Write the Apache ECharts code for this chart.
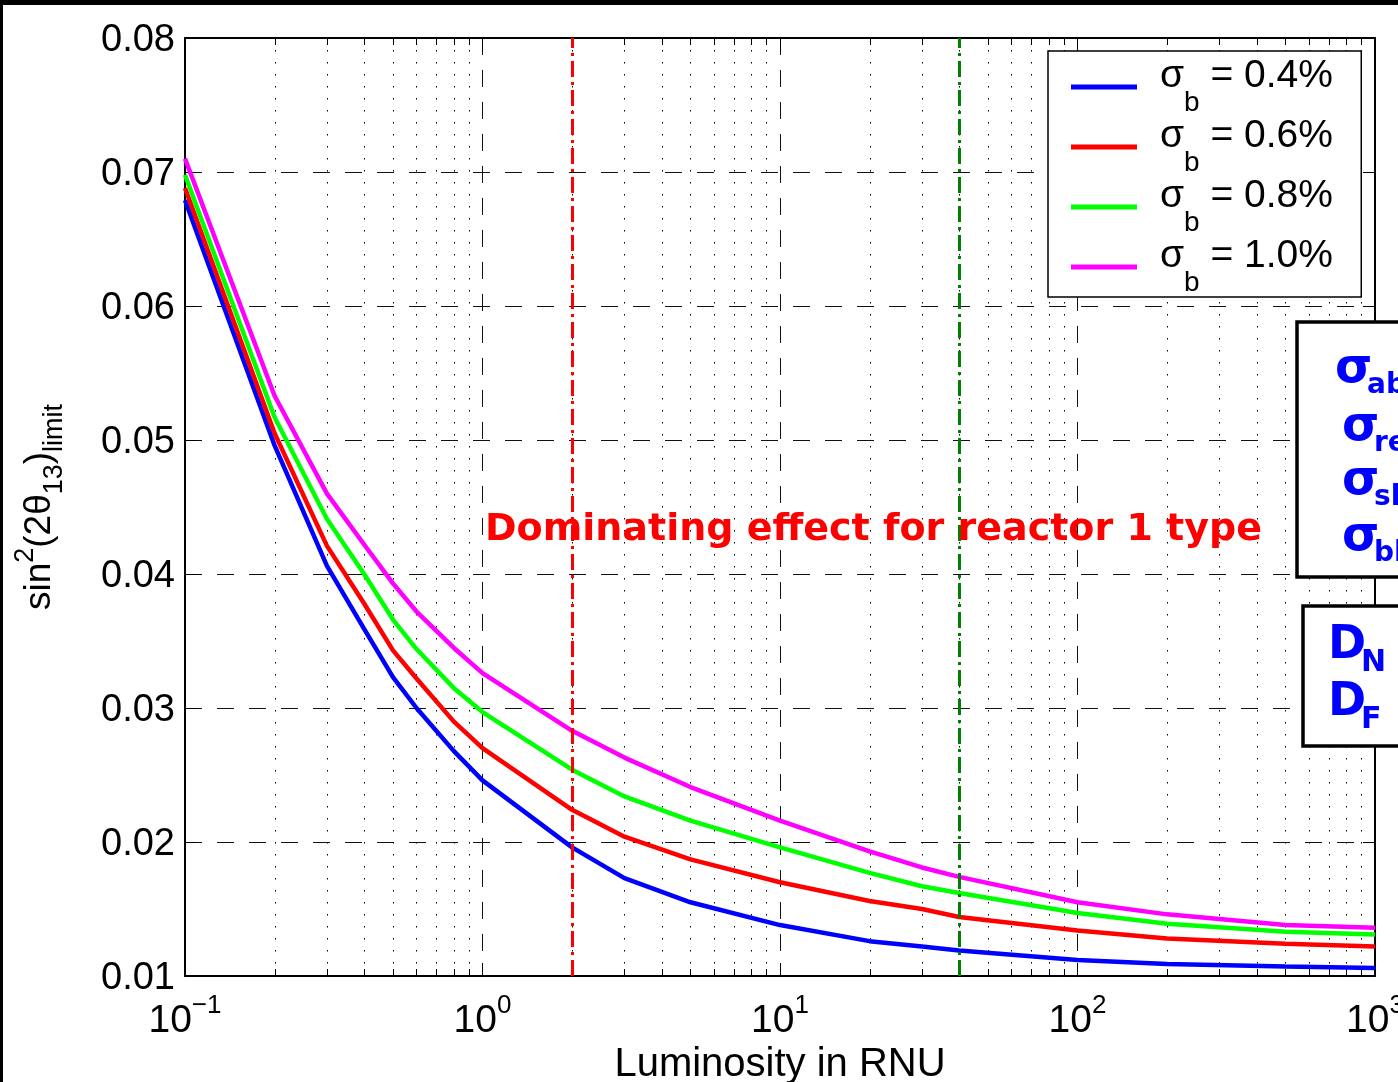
<!DOCTYPE html>
<html>
<head>
<meta charset="utf-8">
<script src="https://cdn.jsdelivr.net/npm/echarts@6/dist/echarts.min.js"></script>
<style>
html,body{margin:0;padding:0;background:#fff;overflow:hidden;}
#chart{width:1398px;height:1082px;}
</style>
</head>
<body>
<div id="chart"></div>
<script>
// ---- data ----
const luminosity = [0.1, 0.2, 0.3, 0.4, 0.5, 0.6, 0.8, 1, 2, 3, 5, 10, 20, 30, 40, 100, 200, 500, 1000];
const sigma04 = [0.0679,0.0496,0.0406,0.0359,0.0323,0.0300,0.0268,0.0246,0.0196,0.0173,0.0155,0.0138,0.0126,0.0122,0.0119,0.0112,0.0109,0.0107,0.0106];
const sigma06 = [0.0688,0.0505,0.0421,0.0378,0.0343,0.0322,0.0290,0.0270,0.0224,0.0204,0.0187,0.0170,0.0156,0.0150,0.0144,0.0134,0.0128,0.0124,0.0122];
const sigma08 = [0.0698,0.0517,0.0441,0.0400,0.0366,0.0344,0.0315,0.0297,0.0254,0.0234,0.0216,0.0196,0.0177,0.0167,0.0162,0.0147,0.0139,0.0133,0.0131];
const sigma10 = [0.0710,0.0533,0.0460,0.0422,0.0393,0.0372,0.0345,0.0326,0.0283,0.0263,0.0241,0.0216,0.0193,0.0181,0.0174,0.0155,0.0146,0.0138,0.0136];
const seriesNames = ['σb = 0.4%', 'σb = 0.6%', 'σb = 0.8%', 'σb = 1.0%'];
const seriesColors = ['#0000ff', '#ff0000', '#00ff00', '#ff00ff'];
const referenceLines = [2, 40];       // red (reactor 1 type), green
const referenceColors = ['#ff0000', '#008000'];
const yTicks = { min: 0.01, max: 0.08, interval: 0.01 };
const xRange = { min: 0.1, max: 1000 };
const minorX = [];
[0.1, 1, 10, 100].forEach(d => { for (let k = 2; k <= 9; k++) minorX.push(+(d * k).toPrecision(3)); });
const annotation = 'Dominating effect for reactor 1 type';
const boxSigma = [['abs', 1335, 370], ['rel', 1342, 428], ['shape', 1342, 482], ['bkg', 1342, 538]];
const boxD = [['N', 1328, 646], ['F', 1328, 703]];

const allSeries = [sigma04, sigma06, sigma08, sigma10];
const FONT = '"Liberation Sans", Arial, Helvetica, sans-serif';
const CFONT = '"DejaVu Sans", "Noto Sans", sans-serif';

const chart = echarts.init(document.getElementById('chart'), null, { renderer: 'canvas' });

const lineSeries = allSeries.map((vals, i) => ({
  type: 'line',
  name: seriesNames[i],
  data: luminosity.map((x, j) => [x, vals[j]]),
  showSymbol: false,
  symbol: 'none',
  smooth: false,
  z: 3,
  lineStyle: { color: seriesColors[i], width: 4.5 },
  itemStyle: { color: seriesColors[i] },
  emphasis: { disabled: true },
  markLine: i === 0 ? {
    silent: true,
    symbol: 'none',
    label: { show: false },
    animation: false,
    data: referenceLines.map((v, k) => ({
      xAxis: v,
      lineStyle: { color: referenceColors[k], width: 3, type: [16, 5, 3, 5] }
    }))
  } : undefined
}));

const minorSeries = {
  type: 'custom',
  name: 'minor',
  silent: true,
  clip: false,
  z: 1,
  data: minorX.map(v => [v, yTicks.min]),
  renderItem: function (params, api) {
    const cs = params.coordSys;
    const x = Math.round(api.coord([api.value(0), api.value(1)])[0]) + 0.5;
    const top = cs.y, bot = cs.y + cs.height;
    return {
      type: 'group',
      children: [
        { type: 'line', shape: { x1: x, y1: top, x2: x, y2: bot }, style: { stroke: '#000', lineWidth: 1, lineDash: [1.5, 10.5] } },
        { type: 'line', shape: { x1: x, y1: bot, x2: x, y2: bot - 7 }, style: { stroke: '#000', lineWidth: 1 } },
        { type: 'line', shape: { x1: x, y1: top, x2: x, y2: top + 7 }, style: { stroke: '#000', lineWidth: 1 } }
      ]
    };
  }
};

const graphics = [
  { type: 'rect', shape: { x: 0, y: 0, width: 1398, height: 5 }, style: { fill: '#000' }, z: 200 },
  { type: 'rect', shape: { x: 0, y: 0, width: 3, height: 1082 }, style: { fill: '#000' }, z: 200 },
  { type: 'text', x: 485, y: 530, z: 50, style: { text: annotation, font: 'bold 38px ' + CFONT, fill: '#ff0000', verticalAlign: 'middle' } },
  { type: 'rect', shape: { x: 1297, y: 322, width: 150, height: 255 }, style: { fill: '#fff', stroke: '#000', lineWidth: 3.5 }, z: 60 },
  { type: 'rect', shape: { x: 1303, y: 606, width: 150, height: 140 }, style: { fill: '#fff', stroke: '#000', lineWidth: 3.5 }, z: 60 }
];
boxSigma.forEach(([sub, x, y]) => {
  graphics.push({ type: 'text', x: x, y: y, z: 61, style: { text: 'σ', font: 'bold 48px ' + CFONT, fill: '#0000ff', verticalAlign: 'middle' } });
  graphics.push({ type: 'text', x: x + 32, y: y + 16, z: 61, style: { text: sub, font: 'bold 28px ' + CFONT, fill: '#0000ff', verticalAlign: 'middle' } });
});
boxD.forEach(([sub, x, y]) => {
  graphics.push({ type: 'text', x: x, y: y, z: 61, style: { text: 'D', font: 'bold 46px ' + CFONT, fill: '#0000ff', verticalAlign: 'middle' } });
  graphics.push({ type: 'text', x: x + 33, y: y + 17, z: 61, style: { text: sub, font: 'bold 30px ' + CFONT, fill: '#0000ff', verticalAlign: 'middle' } });
});

const option = {
  animation: false,
  backgroundColor: '#fff',
  textStyle: { fontFamily: FONT },
  grid: { left: 185, right: 23, top: 38, bottom: 106, containLabel: false, outerBoundsMode: 'none' },
  legend: {
    data: seriesNames,
    orient: 'vertical',
    left: 1048,
    top: 51,
    padding: [6, 28, 0, 23],
    itemGap: 0,
    itemWidth: 66,
    itemHeight: 5,
    icon: 'rect',
    selectedMode: false,
    backgroundColor: '#fff',
    borderColor: '#000',
    borderWidth: 1.5,
    borderRadius: 0,
    z: 10,
    formatter: function (name) {
      const rest = name.split(' ').slice(1).join(' ');
      return '{g| }{m|σ}{s|b}{m| ' + rest + '}{z| }';
    },
    textStyle: {
      color: '#000',
      fontFamily: FONT,
      rich: {
        g: { width: 18, fontSize: 10, lineHeight: 10 },
        m: { fontSize: 39, fontFamily: FONT, color: '#000', lineHeight: 44, verticalAlign: 'top' },
        s: { fontSize: 28, fontFamily: FONT, color: '#000', lineHeight: 42, verticalAlign: 'bottom' },
        z: { fontSize: 1, lineHeight: 60 }
      }
    }
  },
  xAxis: [
    {
      type: 'log', logBase: 10, min: xRange.min, max: xRange.max,
      position: 'bottom',
      name: 'Luminosity in RNU',
      nameLocation: 'middle',
      nameGap: 62,
      nameTextStyle: { fontSize: 40, color: '#000', fontFamily: FONT },
      axisLine: { show: true, onZero: false, lineStyle: { color: '#000', width: 2 } },
      axisTick: { show: true, inside: true, length: 13, lineStyle: { color: '#000', width: 1 } },
      axisLabel: {
        show: true, margin: 17, color: '#000',
        showMinLabel: true, showMaxLabel: true, hideOverlap: false,
        formatter: function (v) {
          const e = Math.round(Math.log10(v));
          return '{m|10}{s|' + (e < 0 ? '\u2212' + (-e) : e) + '}';
        },
        rich: {
          m: { fontSize: 39, fontFamily: FONT, color: '#000', lineHeight: 56, verticalAlign: 'middle' },
          s: { fontSize: 26, fontFamily: FONT, color: '#000', lineHeight: 26, verticalAlign: 'top' }
        }
      },
      splitLine: { show: true, lineStyle: { color: '#111', width: 1, type: [17, 15] } }
    },
    {
      type: 'log', logBase: 10, min: xRange.min, max: xRange.max,
      position: 'top',
      axisLine: { show: true, onZero: false, lineStyle: { color: '#000', width: 2 } },
      axisTick: { show: true, inside: true, length: 13, lineStyle: { color: '#000', width: 1 } },
      axisLabel: { show: false },
      splitLine: { show: false }
    }
  ],
  yAxis: [
    {
      type: 'value', min: yTicks.min, max: yTicks.max, interval: yTicks.interval,
      position: 'left',
      name: '{m|sin}{p|2}{m|(2θ}{b|13}{m|)}{b|limit}',
      nameLocation: 'middle',
      nameRotate: 90,
      nameGap: 117,
      nameTextStyle: {
        color: '#000',
        rich: {
          m: { fontSize: 37, fontFamily: FONT, color: '#000', lineHeight: 56, verticalAlign: 'middle' },
          p: { fontSize: 27, fontFamily: FONT, color: '#000', lineHeight: 27, verticalAlign: 'top' },
          b: { fontSize: 27, fontFamily: FONT, color: '#000', lineHeight: 27, verticalAlign: 'bottom' }
        }
      },
      axisLine: { show: true, onZero: false, lineStyle: { color: '#000', width: 2 } },
      axisTick: { show: true, inside: true, length: 12, lineStyle: { color: '#000', width: 1 } },
      axisLabel: {
        show: true, margin: 10, color: '#000',
        formatter: v => '{v|' + v.toFixed(2) + '}',
        rich: { v: { fontSize: 38, fontFamily: FONT, color: '#000', padding: [6, 0, 0, 0] } }
      },
      splitLine: { show: true, lineStyle: { color: '#111', width: 1, type: [17, 15] } }
    },
    {
      type: 'value', min: yTicks.min, max: yTicks.max, interval: yTicks.interval,
      position: 'right',
      axisLine: { show: true, onZero: false, lineStyle: { color: '#000', width: 2 } },
      axisTick: { show: true, inside: true, length: 12, lineStyle: { color: '#000', width: 1 } },
      axisLabel: { show: false },
      splitLine: { show: false }
    }
  ],
  graphic: { elements: graphics },
  series: [minorSeries].concat(lineSeries)
};
chart.setOption(option);
</script>
</body>
</html>
